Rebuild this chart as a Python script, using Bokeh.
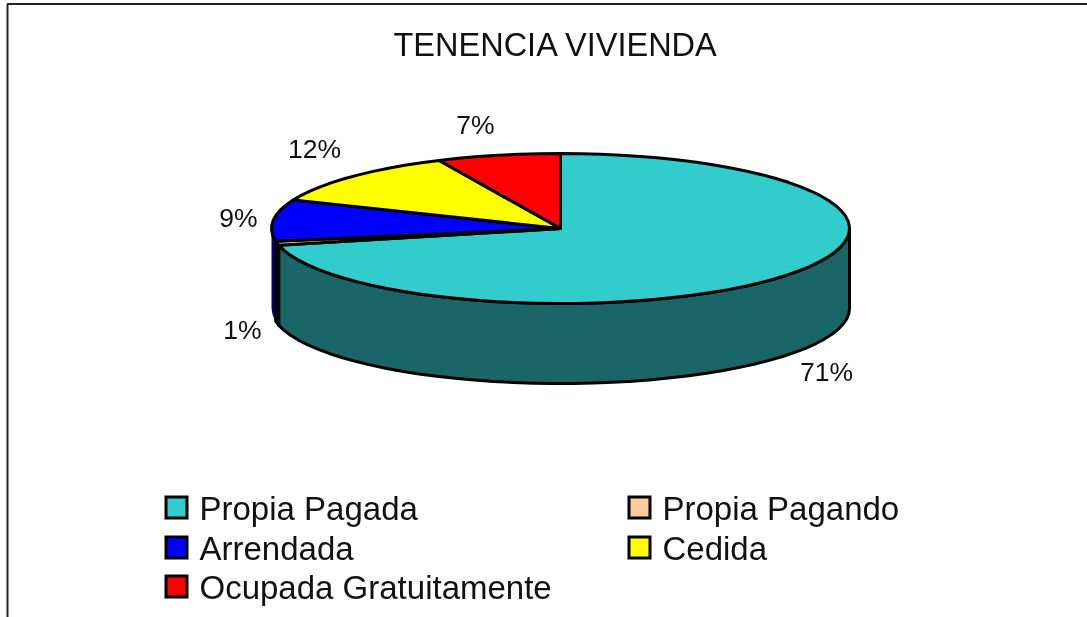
import numpy as np
from bokeh.plotting import figure
from bokeh.embed import file_html
from bokeh.resources import INLINE
from bokeh.core.properties import value

categories = ["Propia Pagada", "Propia Pagando", "Arrendada", "Cedida", "Ocupada Gratuitamente"]
shares = [71.4, 0.9, 8.9, 11.9, 6.9]
labels = ["71%", "1%", "9%", "12%", "7%"]
title_text = "TENENCIA  VIVIENDA"

top_colors = ["#33CCCC", "#FFCC99", "#0000FF", "#FFFF00", "#FF0000"]
side_colors = ["#1A6666", "#000000", "#000080", "#808000", "#800000"]
side_outline = ["black", "black", None, None, None]

W, H = 1087, 617
CX, CY, RX, RY, DEPTH = 560.0, 228.0, 289.0, 75.0, 80.0
FONT = value("Liberation Sans")

p = figure(width=W, height=H, x_range=(0, W), y_range=(H, 0), toolbar_location=None,
           output_backend="svg", min_border=0, outline_line_color=None,
           background_fill_color="white", border_fill_color="white")
p.axis.visible = False
p.grid.visible = False
p.styles = {"position": "fixed", "left": "0px", "top": "0px"}

# page frame
p.line(x=[7, 7, W], y=[H, 3.5, 3.5], line_color="#222222", line_width=2)


def pt(theta, dy=0.0):
    t = np.radians(theta)
    return CX + RX * np.sin(t), CY - RY * np.cos(t) + dy


def arc(a, b):
    # coarse polygon steps, like the reference's slightly faceted outline
    n = max(2, int(round((b - a) / 4.0)) + 1)
    return np.linspace(a, b, n)


bounds = np.cumsum([0] + shares) / sum(shares) * 360.0

# side walls: only the front half (90..270 deg clockwise from north) shows
for i in reversed(range(len(shares))):
    a, b = max(bounds[i], 90.0), min(bounds[i + 1], 270.0)
    if a >= b:
        continue
    th = arc(a, b)
    x1, y1 = pt(th)
    x2, y2 = pt(th[::-1], DEPTH)
    p.patch(np.r_[x1, x2], np.r_[y1, y2], fill_color=side_colors[i], line_color=side_outline[i],
            line_width=3, line_join="round")

# top slices
for i in range(len(shares)):
    th = arc(bounds[i], bounds[i + 1])
    x, y = pt(th)
    p.patch(np.r_[CX, x], np.r_[CY, y], fill_color=top_colors[i], line_color="black",
            line_width=3, line_join="round")

# percent labels
label_x = [826, 242, 238, 314, 475]
label_y = [371, 329, 217, 148, 124]
p.text(x=label_x, y=label_y, text=labels, text_font=FONT, text_font_size="26.5px",
       text_color="#111111", text_align="center", text_baseline="middle")

# title
p.text(x=[393], y=[44], text=[title_text], text_font=FONT, text_font_size="32.5px",
       text_color="#111111", text_align="left", text_baseline="middle")

# legend
leg_col = [0, 1, 0, 1, 0]
leg_row = [0, 0, 1, 1, 2]
sx = np.array([176, 639])[leg_col]
tx = np.array([199, 662])[leg_col]
ly = np.array([507, 547, 586])[leg_row]
p.rect(x=sx, y=ly, width=21, height=21, fill_color=top_colors, line_color="black", line_width=3,
       line_join="miter")
p.text(x=tx, y=ly + 1, text=categories, text_font=FONT, text_font_size="33px",
       text_color="#111111", text_align="left", text_baseline="middle")

open("out.html", "w").write(file_html(p, INLINE))
